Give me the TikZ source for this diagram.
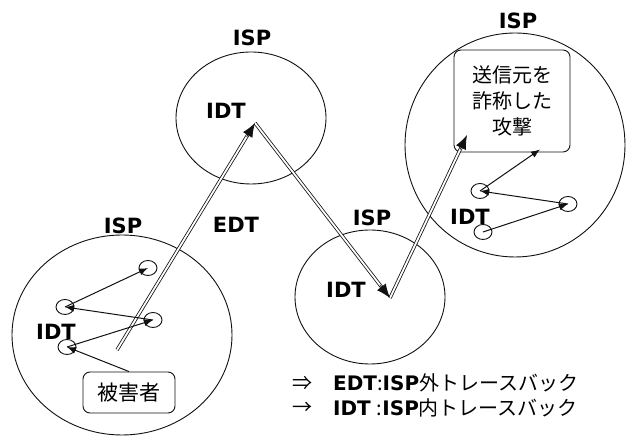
\documentclass[tikz,border=0pt]{standalone}
\usepackage{fontspec}
\usetikzlibrary{arrows.meta,positioning,shapes.geometric,calc}
\newfontfamily\jpfont{Noto Sans CJK JP}
\newfontfamily\labfont{DejaVu Sans}
\definecolor{trink}{HTML}{111111}
\tikzset{
  ispzone/.style={draw=trink, ellipse, line width=0.9pt, inner sep=0pt},
  hop/.style={draw=trink, ellipse, line width=0.9pt, inner sep=0pt, minimum width=18pt, minimum height=15pt},
  tag/.style={font=\labfont\bfseries\fontsize{21}{24}\selectfont, inner sep=0pt},
  who/.style={draw=trink, rounded corners=7pt, line width=0.9pt, align=center, inner sep=0pt, font=\jpfont\fontsize{20}{26}\selectfont},
  idt/.style={-{Latex[length=9pt,width=7pt]}, line width=1pt, color=trink},
  edt/.style={double=white, double distance=1.8pt, line width=0.8pt, draw=trink, shorten >=11pt},
  edthead/.style={-{Latex[length=14pt,width=11pt,fill=trink]}, line width=0.8pt, draw=trink},
}
\begin{document}
\begin{tikzpicture}[x=1pt, y=1pt]
    \useasboundingbox (0,0) rectangle (626,438);
    \node[ispzone, minimum width=220pt, minimum height=200pt] (ispa) at (122,103) {};
    \node[ispzone, minimum width=150pt, minimum height=132pt] (ispb) at (251,320) {};
    \node[ispzone, minimum width=150pt, minimum height=134pt] (ispc) at (370,141) {};
    \node[ispzone, minimum width=220pt, minimum height=224pt] (ispd) at (515,293) {};
    \node[tag] (ispalab) at (123,212) {ISP};
    \node[tag] (ispblab) at (252,400) {ISP};
    \node[tag] (ispclab) at (372,220) {ISP};
    \node[tag] (ispdlab) at (518,417) {ISP};
    \node[tag] (idta) at (56,106) {IDT};
    \node[tag] (idtb) at (226,327) {IDT};
    \node[tag] (idtc) at (346,148) {IDT};
    \node[tag] (idtd) at (470,221) {IDT};
    \node[tag] (edtlab) at (236,213) {EDT};
    \node[who, minimum width=92pt, minimum height=41pt, font=\jpfont\fontsize{21}{26}\selectfont] (victim) at (129,45.5) {被害者};
    \node[who, minimum width=116pt, minimum height=102pt] (attack) at (512,337) {送信元を\\詐称した\\攻撃};
    \node[hop] (b1) at (148,170) {};
    \node[hop] (b2) at (65,131) {};
    \node[hop] (b3) at (153,118) {};
    \node[hop] (b4) at (67,91) {};
    \node[hop] (t1) at (480,247) {};
    \node[hop] (t2) at (568,234) {};
    \node[hop] (t3) at (483,206) {};
    \coordinate (e0) at (117,88);
    \coordinate (e1) at (255,315);
    \coordinate (e2) at (390,140);
    \coordinate (e3) at (467,303);
    \draw[edt] (e0)--(e1); \draw[edt] (e1)--(e2); \draw[edt] (e2)--(e3);
    \draw[edthead] ($(e1)!16pt!(e0)$)--(e1); \draw[edthead] ($(e2)!16pt!(e1)$)--(e2); \draw[edthead] ($(e3)!16pt!(e2)$)--(e3);
    \draw[idt] (victim.north)--(b4.center); \draw[idt] (b4.center)--(b3.center); \draw[idt] (b3.center)--(b2.center); \draw[idt] (b2.center)--(b1.center);
    \draw[idt] (t3.center)--(t2.center); \draw[idt] (t2.center)--(t1.center); \draw[idt] (t1.center)--([xshift=28pt,yshift=3pt]attack.south);
    \node[anchor=west, inner sep=0pt, font=\jpfont\fontsize{20}{24}\selectfont] (sym1) at (292,55) {⇒};
    \node[anchor=west, inner sep=0pt, font=\jpfont\fontsize{20}{24}\selectfont] (sym2) at (292,30) {→};
    \node[anchor=west, inner sep=0pt, font=\fontsize{20}{24}\selectfont] (leg1) at (333,55) {{\labfont\bfseries EDT}{\jpfont :}{\labfont\bfseries ISP}{\jpfont 外トレースバック}};
    \node[anchor=west, inner sep=0pt, font=\fontsize{20}{24}\selectfont] (leg2) at (333,30) {{\labfont\bfseries IDT}\hspace{6pt}{\jpfont :}{\labfont\bfseries ISP}{\jpfont 内トレースバック}};
  \end{tikzpicture}
\end{document}
